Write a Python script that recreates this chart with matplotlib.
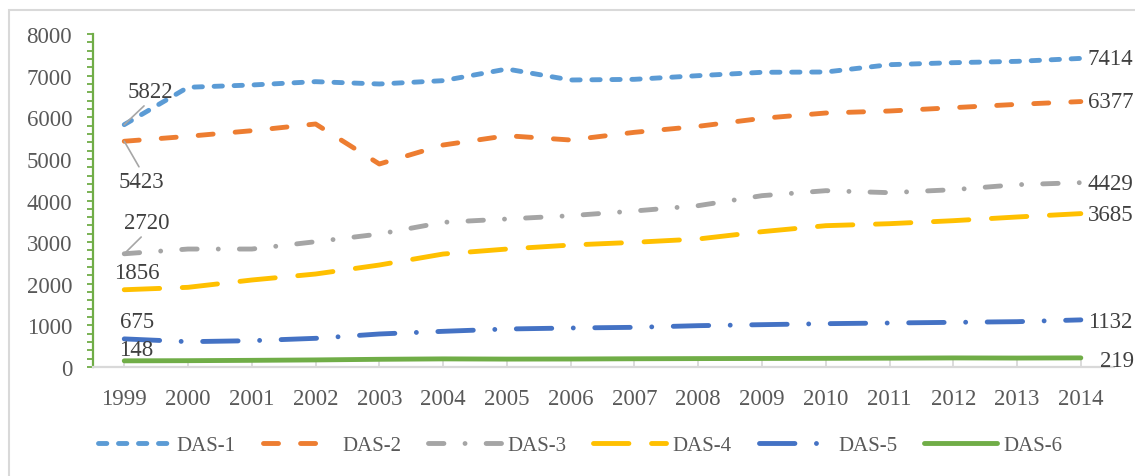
import matplotlib
matplotlib.use("Agg")
import matplotlib.pyplot as plt
from matplotlib.patches import Rectangle
from matplotlib.ticker import MultipleLocator

plt.rcParams['font.family'] = ['Liberation Serif', 'DejaVu Serif']
plt.rcParams['lines.scale_dashes'] = False

years = ['1999', '2000', '2001', '2002', '2003', '2004', '2005', '2006',
         '2007', '2008', '2009', '2010', '2011', '2012', '2013', '2014']
names = ['DAS-1', 'DAS-2', 'DAS-3', 'DAS-4', 'DAS-5', 'DAS-6']

das1 = [5822, 6720, 6775, 6855, 6799, 6879, 7159, 6895, 6911, 6999, 7080, 7087, 7263, 7311, 7343, 7414]
das2 = [5423, 5542, 5677, 5838, 4877, 5333, 5557, 5453, 5638, 5782, 5974, 6102, 6150, 6230, 6310, 6377]
das3 = [2720, 2834, 2834, 3010, 3195, 3476, 3556, 3635, 3748, 3876, 4116, 4236, 4188, 4260, 4380, 4429]
das4 = [1856, 1914, 2090, 2234, 2450, 2714, 2834, 2930, 2995, 3075, 3251, 3395, 3443, 3515, 3604, 3685]
das5 = [675, 608, 632, 689, 793, 857, 913, 937, 953, 993, 1017, 1041, 1057, 1073, 1089, 1132]
das6 = [148, 152, 160, 170, 185, 195, 190, 192, 198, 202, 205, 208, 212, 218, 215, 219]
series = [das1, das2, das3, das4, das5, das6]

colors = ['#5B9BD5', '#ED7D31', '#A5A5A5', '#FFC000', '#4472C4', '#70AD47']
dashes = [(0, (6, 8.4)),
          (0, (10.8, 15.9)),
          (0, (11.1, 15.2, 0.01, 15.2)),
          (0, (25.5, 16.3)),
          (0, (25.5, 15.5, 0.01, 15.5)),
          '-']

# label offsets in pixels: (first point), (last point)
start_off = [(26, 33), (17, -40), (23, 31), (13, 17), (13, 17), (12, 11)]
start_rel = [(0.45, 0.0), (0.5, 1.0), (0.45, 0.0), None, None, None]
end_off = [(7, 0), (7, 0), (7, -1), (7, -1), (7, -2), (19, -3)]

fig = plt.figure(figsize=(11.35, 4.77), dpi=100)
ax = fig.add_axes([93 / 1135, 109 / 477, 1021 / 1135, 333 / 477])

x = list(range(len(years)))
for i, (vals, c, ls) in enumerate(zip(series, colors, dashes)):
    ax.plot(x, vals, color=c, lw=3.5, linestyle=ls, dash_capstyle='round',
            solid_capstyle='round', label=names[i], zorder=3)

txt = '#404040'
for i, vals in enumerate(series):
    if start_rel[i] is not None:
        ax.annotate(str(vals[0]), xy=(0, vals[0]), xytext=start_off[i],
                    textcoords='offset pixels', ha='center', va='center',
                    fontsize=16.5, color=txt, zorder=5,
                    arrowprops=dict(arrowstyle='-', color='#A6A6A6', lw=1.2,
                                    shrinkA=1, shrinkB=0, relpos=start_rel[i]))
    else:
        ax.annotate(str(vals[0]), xy=(0, vals[0]), xytext=start_off[i],
                    textcoords='offset pixels', ha='center', va='center',
                    fontsize=16.5, color=txt, zorder=5)
    ax.annotate(str(vals[-1]), xy=(15, vals[-1]), xytext=end_off[i],
                textcoords='offset pixels', ha='left', va='center',
                fontsize=16.5, color=txt, zorder=5, annotation_clip=False)

ax.set_xlim(-0.49, 15.52)
ax.set_ylim(0, 8000)
ax.set_xticks(x)
ax.set_xticklabels(years)
ax.yaxis.set_major_locator(MultipleLocator(1000))
ax.yaxis.set_minor_locator(MultipleLocator(200))

for s in ['top', 'right']:
    ax.spines[s].set_visible(False)
ax.spines['left'].set_color('#70AD47')
ax.spines['left'].set_linewidth(1.6)
ax.spines['bottom'].set_color('#D9D9D9')
ax.spines['bottom'].set_linewidth(1.6)

ax.tick_params(axis='y', which='both', direction='out', length=4, width=1.3,
               color='#70AD47', labelsize=16.5, labelcolor='#595959', pad=11)
ax.tick_params(axis='x', direction='in', length=5, width=1.3, color='#D9D9D9',
               labelsize=16.5, labelcolor='#595959', pad=15)

leg = ax.legend(loc='center', bbox_to_anchor=(580 / 1135, 31 / 477),
                bbox_transform=fig.transFigure, ncol=6, frameon=False,
                fontsize=15, handlelength=3.5, handletextpad=0.3,
                columnspacing=1.3, labelcolor='#595959')

fig.add_artist(Rectangle((9 / 1135, -0.1), 1.2, (477 - 11) / 477 + 0.1,
                         transform=fig.transFigure, fill=False,
                         ec='#D9D9D9', lw=1.5))

fig.savefig('out.png', dpi=100)
